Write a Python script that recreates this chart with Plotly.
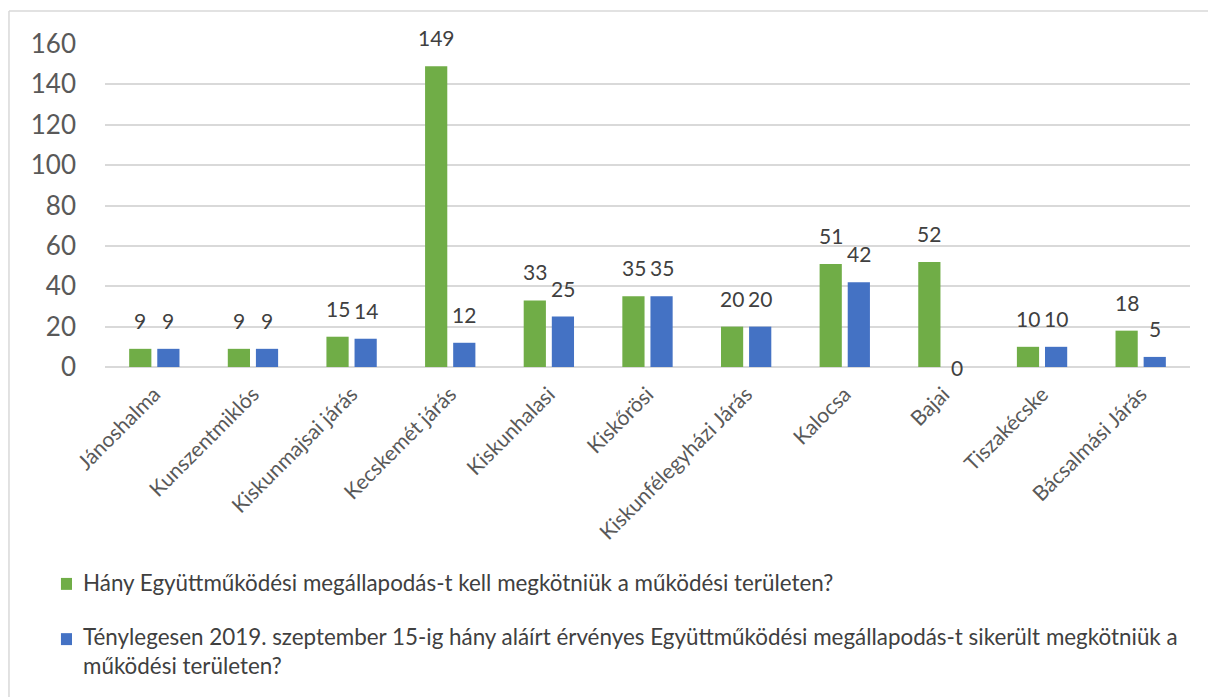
import plotly.graph_objects as go

categories = ["Jánoshalma", "Kunszentmiklós", "Kiskunmajsai járás", "Kecskemét járás",
              "Kiskunhalasi", "Kiskőrösi", "Kiskunfélegyházi Járás", "Kalocsa", "Bajai",
              "Tiszakécske", "Bácsalmási Járás"]
required = [9, 9, 15, 149, 33, 35, 20, 51, 52, 10, 18]
signed = [9, 9, 14, 12, 25, 35, 20, 42, 0, 10, 5]
series_names = [
    "Hány Együttműködési megállapodás-t kell megkötniük a működési területen?",
    "Ténylegesen 2019. szeptember 15-ig hány aláírt érvényes Együttműködési megállapodás-t sikerült megkötniük a<br>működési területen?",
]
y_ticks = [0, 20, 40, 60, 80, 100, 120, 140, 160]

GREEN = "#70AD47"
BLUE = "#4472C4"
FONT = "Lato"
TXT = "#595959"

fig = go.Figure()
series = [(required, GREEN, series_names[0], -14), (signed, BLUE, series_names[1], 14)]
for vals, col, name, shift in series:
    fig.add_trace(go.Bar(
        x=categories, y=vals, name=name, marker=dict(color=col, line=dict(width=0)),
        showlegend=False, hoverinfo="x+y",
    ))
    # data labels
    for c, v in zip(categories, vals):
        fig.add_annotation(x=c, y=v, xref="x", yref="y", text=str(v), showarrow=False,
                           xshift=shift, yshift=(14 if v > 0 else 0),
                           yanchor=("bottom" if v > 0 else "middle"),
                           font=dict(family=FONT, size=21, color="#404040"))

fig.update_layout(
    width=1208, height=697,
    margin=dict(l=105, r=18, t=44, b=330),
    paper_bgcolor="white", plot_bgcolor="white",
    barmode="group", bargap=0.43, bargroupgap=0.21,
    font=dict(family=FONT, color=TXT),
    xaxis=dict(tickangle=-45, tickfont=dict(size=21, color=TXT, family=FONT),
               showgrid=False, showline=False, ticks="", ticklabelstandoff=10),
    yaxis=dict(range=[0, 160], tickvals=y_ticks, tickfont=dict(size=26, color=TXT, family=FONT),
               showgrid=True, gridcolor="#D9D9D9", gridwidth=1.5, zeroline=True,
               zerolinecolor="#D9D9D9", zerolinewidth=1.5, ticks="", ticklabelstandoff=28),
)

# chart border: only the left and top edges are inside the picture
border = dict(color="#D9D9D9", width=1.5)
fig.add_shape(type="line", xref="paper", yref="paper", x0=-0.0885, x1=-0.0885, y0=-1.2, y1=1.102,
              line=border, layer="below")
fig.add_shape(type="line", xref="paper", yref="paper", x0=-0.0885, x1=1.05, y0=1.102, y1=1.102,
              line=border, layer="below")

# custom legend
sq = [(-0.653, -0.690), (-0.824, -0.861)]
txt_y = [-0.666, -0.879]
for i, (col, name) in enumerate([(GREEN, series_names[0]), (BLUE, series_names[1])]):
    fig.add_shape(type="rect", xref="paper", yref="paper", x0=-0.0406, x1=-0.0304,
                  y0=sq[i][1], y1=sq[i][0], fillcolor=col, line=dict(width=0))
    fig.add_annotation(xref="paper", yref="paper", x=-0.0221, y=txt_y[i], xanchor="left",
                       yanchor="middle", text=name, showarrow=False, align="left",
                       font=dict(size=22.4, family=FONT, color="#404040"))

fig.write_html("out.html", config={"displayModeBar": False},
               post_script="document.body.style.margin='0';document.body.style.overflow='hidden';")
